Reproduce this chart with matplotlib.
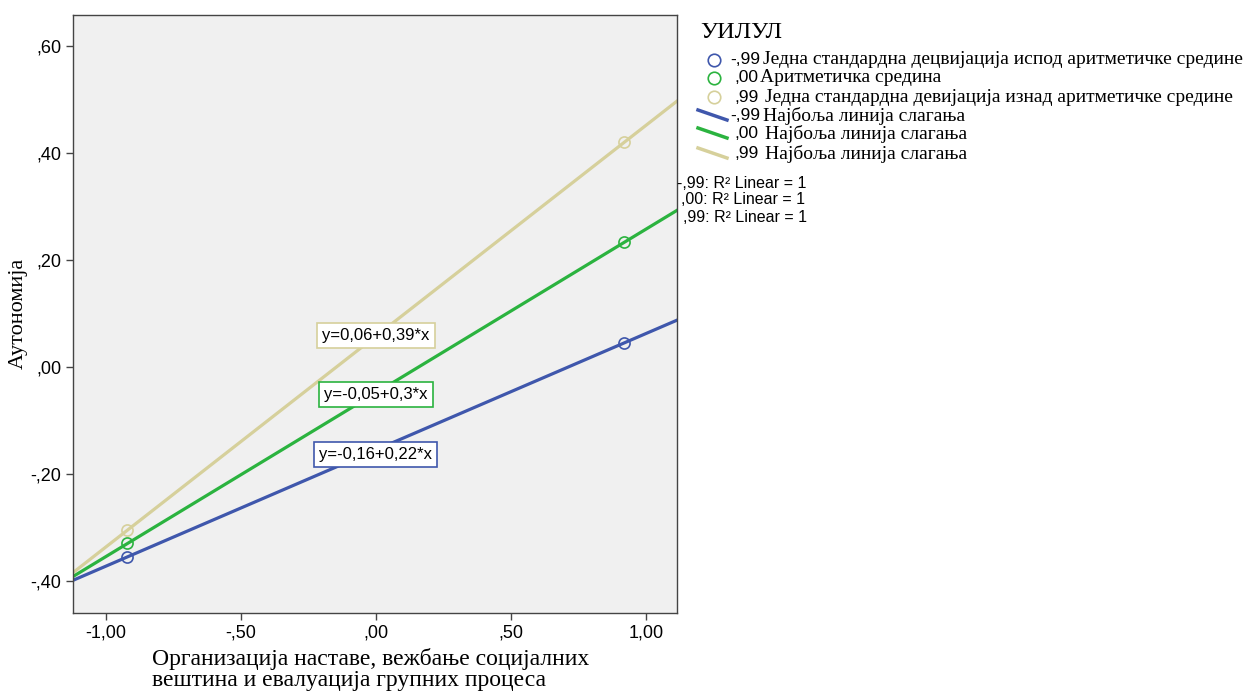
import matplotlib.pyplot as plt
import numpy as np
from matplotlib.lines import Line2D

# data
x_points = [-0.92, 0.92]
y_low = [-0.355, 0.045]
y_mean = [-0.33, 0.233]
y_high = [-0.305, 0.42]
groups = ['-,99', ',00', ',99']
colors = ['#3f57ac', '#2bb33f', '#d6d09b']
equations = ['y=-0,16+0,22*x', 'y=-0,05+0,3*x', 'y=0,06+0,39*x']
label_pos = [(0.0, -0.163), (0.0, -0.052), (0.0, 0.058)]
legend_names = ['Једна стандардна децвијација испод аритметичке средине',
                'Аритметичка средина',
                'Једна стандардна девијација изнад аритметичке средине',
                'Најбоља линија слагања',
                'Најбоља линија слагања',
                'Најбоља линија слагања']
xticks = [-1.0, -0.5, 0.0, 0.5, 1.0]
xticklabels = ['-1,00', '-,50', ',00', ',50', '1,00']
yticks = [-0.4, -0.2, 0.0, 0.2, 0.4, 0.6]
yticklabels = ['-,40', '-,20', ',00', ',20', ',40', ',60']

serif = ['Liberation Serif', 'DejaVu Serif']
sans = ['Liberation Sans', 'DejaVu Sans']

fig = plt.figure(figsize=(12.45, 6.93), dpi=100)
ax = fig.add_axes([0.0586, 0.1154, 0.4851, 0.863])
ax.set_facecolor('#f0f0f0')

xmin, xmax = -1.122, 1.115
xs = np.array([xmin, xmax])
for ys, c in zip([y_low, y_mean, y_high], colors):
    k, b = np.polyfit(x_points, ys, 1)
    ax.plot(xs, b + k * xs, color=c, lw=2.3, zorder=2)
    ax.plot(x_points, ys, 'o', mfc='none', mec=c, ms=8, mew=1.2, zorder=3)

for eq, (px, py), c in zip(equations, label_pos, colors):
    ax.text(px, py, eq, ha='center', va='center', fontsize=12, family=sans,
            bbox=dict(boxstyle='square,pad=0.3', fc='white', ec=c, lw=1.2),
            zorder=4)

ax.set_xlim(xmin, xmax)
ax.set_ylim(-0.46, 0.658)
ax.set_xticks(xticks)
ax.set_xticklabels(xticklabels, family=sans, fontsize=13)
ax.set_yticks(yticks)
ax.set_yticklabels(yticklabels, family=sans, fontsize=13)
ax.tick_params(length=5, width=1, color='#444444')
for s in ax.spines.values():
    s.set_color('#444444')
    s.set_linewidth(1)

fig.text(0.122, 0.034, 'Организација наставе, вежбање социјалних\nвештина и евалуација групних процеса',
         family=serif, fontsize=17, ha='left', va='center', linespacing=1.0)
fig.text(0.015, 0.548, 'Аутономија', family=serif, fontsize=16, rotation=90,
         ha='center', va='center')

# legend
W, H = 1245, 693
fig.text(700 / W, 1 - 33 / H, 'УИЛУЛ', family=serif, fontsize=17.5, va='center')
rows = [60, 78, 97, 116, 134, 154]
pref_x = [730, 734, 734, 730, 734, 734]
name_x = [763, 760, 765, 763, 765, 765]
for i, y in enumerate(rows):
    c = colors[i % 3]
    yy = 1 - y / H
    if i < 3:
        fig.add_artist(Line2D([714 / W], [yy], marker='o', mfc='none', mec=c,
                              ms=9, mew=1.2, transform=fig.transFigure))
    else:
        fig.add_artist(Line2D([698 / W, 727 / W], [yy + 6 / H, yy - 4 / H],
                              color=c, lw=2.5, transform=fig.transFigure))
    fig.text(pref_x[i] / W, yy, groups[i % 3], family=sans, fontsize=12.5,
             va='center')
    fig.text(name_x[i] / W, yy, legend_names[i], family=serif, fontsize=14,
             va='center')

r2_x = [677, 681, 683]
r2_y = [183, 200, 218]
for g, rx, ry in zip(groups, r2_x, r2_y):
    fig.text(rx / W, 1 - ry / H, g + ': R² Linear = 1', family=sans,
             fontsize=11.5, va='center')

fig.savefig('out.png', dpi=100, facecolor='white')
